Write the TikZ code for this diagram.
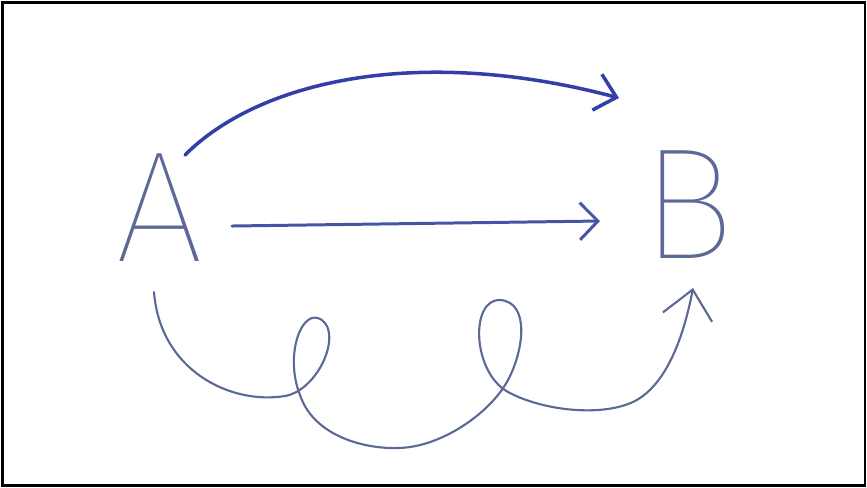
\documentclass[tikz,border=0pt]{standalone}
\usepackage{fontspec}
\newfontfamily\handfont{Fira Sans Thin}
\usetikzlibrary{arrows.meta}
\definecolor{inkdark}{RGB}{52,62,168}
\definecolor{inkmid}{RGB}{70,84,165}
\definecolor{inkpale}{RGB}{92,104,150}
\tikzset{
  letter/.style={font=\handfont\fontsize{45}{45}\selectfont,text=inkpale,inner sep=0pt},
  pen/.style={line cap=round,line join=round},
}
\begin{document}
\begin{tikzpicture}[x=.01cm,y=-.01cm,line width=.85pt]
 \useasboundingbox (0,0) rectangle (867,487);
 \draw[line width=.7pt] (2.5,2.5) rectangle (865,485.5);
 \node[letter] (A) at (160,208) {A};
 \node[letter] (B) at (688,205) {B};
 \coordinate (topstart) at (185,155);
 \coordinate (toptip) at (619,98);
 \coordinate (midstart) at (232,226);
 \coordinate (midtip) at (600,221);
 \coordinate (lowstart) at (154,292);
 \coordinate (lowtip) at (693,288);
 % upper arc
 \draw[pen,inkdark,line width=1pt,-{Straight Barb[length=2mm,width=3.7mm]}]
   (topstart) .. controls (260,80) and (420,45) .. (toptip);
 % straight arrow
 \draw[pen,inkmid,-{Straight Barb[length=1.8mm,width=3.7mm]}] (midstart) -- (midtip);
 % looping arrow
 \draw[pen,inkpale,line width=.6pt,-{Straight Barb[length=2.8mm,width=5mm]}]
   (lowstart) .. controls (160,370) and (230,405) .. (285,396)
   .. controls (318,390) and (342,335) .. (322,320)
   .. controls (302,306) and (284,355) .. (300,395)
   .. controls (315,440) and (375,452) .. (410,447)
   .. controls (450,441) and (492,410) .. (508,380)
   .. controls (524,350) and (530,302) .. (500,300)
   .. controls (470,299) and (472,372) .. (508,392)
   .. controls (545,412) and (610,418) .. (640,398)
   .. controls (670,378) and (685,330) .. (lowtip);
\end{tikzpicture}
\end{document}
